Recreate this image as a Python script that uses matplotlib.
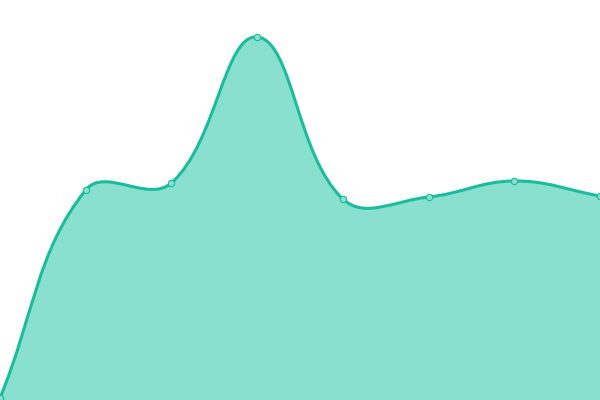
import numpy as np
import matplotlib
matplotlib.use("Agg")
import matplotlib.pyplot as plt
from matplotlib.path import Path
from matplotlib.patches import PathPatch

# data (x index, y value on a 0..400 scale)
labels = [0, 1, 2, 3, 4, 5, 6, 7]
values = [2, 210, 217, 363, 201, 203, 219, 204]

W, H = 600, 400
fig = plt.figure(figsize=(6, 4), dpi=100)
ax = fig.add_axes([0, 0, 1, 1])
ax.set_xlim(0, 7)
ax.set_ylim(0, 400)
ax.axis("off")

# Chart.js-style spline (tension 0.4) computed in pixel space
tension = 0.4
pts = [ax.transData.transform((x, y)) for x, y in zip(labels, values)]
pts = np.array(pts)
n = len(pts)
cps = []
for i in range(n):
    prev = pts[i - 1] if i > 0 else pts[i]
    cur = pts[i]
    nxt = pts[i + 1] if i < n - 1 else pts[i]
    d01 = np.hypot(*(cur - prev))
    d12 = np.hypot(*(nxt - cur))
    tot = d01 + d12
    s01 = d01 / tot if tot else 0
    s12 = d12 / tot if tot else 0
    fa = tension * s01
    fb = tension * s12
    cp_prev = cur - fa * (nxt - prev)
    cp_next = cur + fb * (nxt - prev)
    cp_prev = np.clip(cp_prev, [0, 0], [W, H])
    cp_next = np.clip(cp_next, [0, 0], [W, H])
    cps.append((cp_prev, cp_next))

inv = ax.transData.inverted()
verts = [pts[0]]
codes = [Path.MOVETO]
for i in range(n - 1):
    verts += [cps[i][1], cps[i + 1][0], pts[i + 1]]
    codes += [Path.CURVE4] * 3
verts_d = inv.transform(np.array(verts))

line_color = "#1abc9c"
fill_color = "#89e0cf"

fill_verts = list(verts_d) + [(labels[-1], 0), (labels[0], 0), tuple(verts_d[0])]
fill_codes = codes + [Path.LINETO, Path.LINETO, Path.CLOSEPOLY]
ax.add_patch(PathPatch(Path(fill_verts, fill_codes), facecolor=fill_color,
                       edgecolor="none", zorder=1))
ax.add_patch(PathPatch(Path(verts_d, codes), facecolor="none",
                       edgecolor=line_color, lw=2.2, zorder=2, capstyle="round"))
ax.plot(labels, values, linestyle="none", marker="o", markersize=4.6,
        markerfacecolor=fill_color, markeredgecolor=line_color,
        markeredgewidth=0.8, zorder=3, clip_on=False)

fig.savefig("out.png", dpi=100)
